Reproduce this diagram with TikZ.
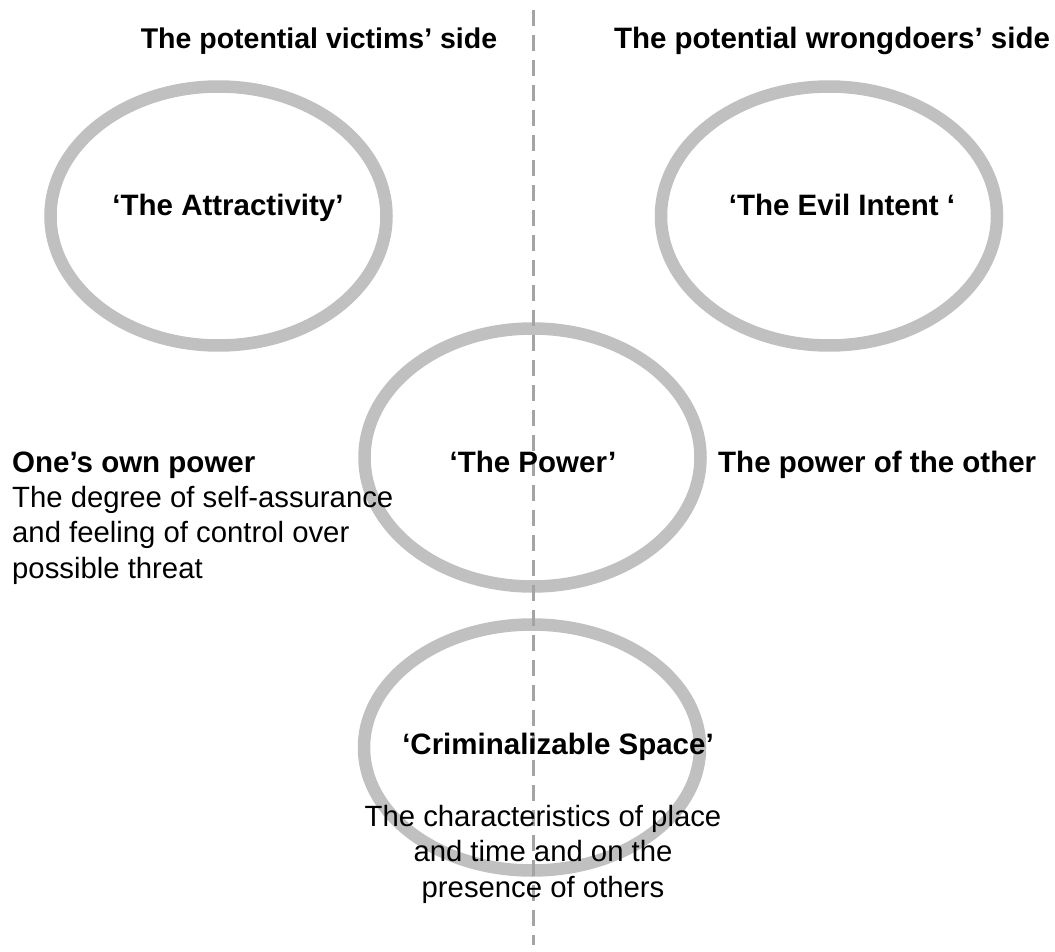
\documentclass[tikz,border=0pt]{standalone}
\usepackage{fontspec}
\setmainfont{Liberation Sans}
\usetikzlibrary{shapes.geometric}
\definecolor{ringgray}{HTML}{C0C0C0}
\definecolor{linegray}{HTML}{A4A4A4}
\begin{document}
\begin{tikzpicture}[x=1pt,y=-1pt,
  ring/.style={draw=ringgray, line width=12.5pt, ellipse, inner sep=0pt, fill=none},
  head/.style={font=\fontsize{29.5}{35}\selectfont\bfseries, inner sep=0pt, anchor=base},
  body/.style={font=\fontsize{29.3}{35.5}\selectfont, inner sep=0pt},
  divider/.style={draw=linegray, line width=3pt, dash pattern=on 16pt off 9pt}
]
\useasboundingbox (0,0) rectangle (1055,952);

% the four rings
\node[ring, minimum width=336pt, minimum height=259pt] (attr)  at (218.5,216) {};
\node[ring, minimum width=336pt, minimum height=259pt] (evil)  at (829,216) {};
\node[ring, minimum width=336pt, minimum height=258pt] (power) at (532.5,457.5) {};
\node[ring, minimum width=336pt, minimum height=246pt] (space) at (532,747.5) {};

% dividing line between the two sides
\coordinate (divtop) at (533,10);
\coordinate (divbot) at (533,945);
\draw[divider] (divtop) -- (divbot);

% side headings
\node[head, font=\fontsize{28.5}{35}\selectfont\bfseries] (victims) at (319,49) {The potential victims’ side};
\node[head] (wrong)   at (832,49) {The potential wrongdoers’ side};

% ring titles
\node[head] (tattr)  at (228,216) {‘The Attractivity’};
\node[head] (tevil)  at (842,216) {‘The Evil Intent ‘};
\node[head] (tpower) at (533,472) {‘The Power’};
\node[head] (tspace) at (558,754) {‘Criminalizable Space’};

% power labels
\node[head, anchor=base west] (own)   at (12,472)  {One’s own power};
\node[head, anchor=base west] (other) at (718,472) {The power of the other};
\node[body, anchor=north west, align=left] (owndesc) at (12,486)
  {The degree of self-assurance\\and feeling of control over\\possible threat};

% space description
\node[body, anchor=north, align=center] (spacedesc) at (543,805)
  {The characteristics of place\\and time and on the\\presence of others};
\end{tikzpicture}
\end{document}
